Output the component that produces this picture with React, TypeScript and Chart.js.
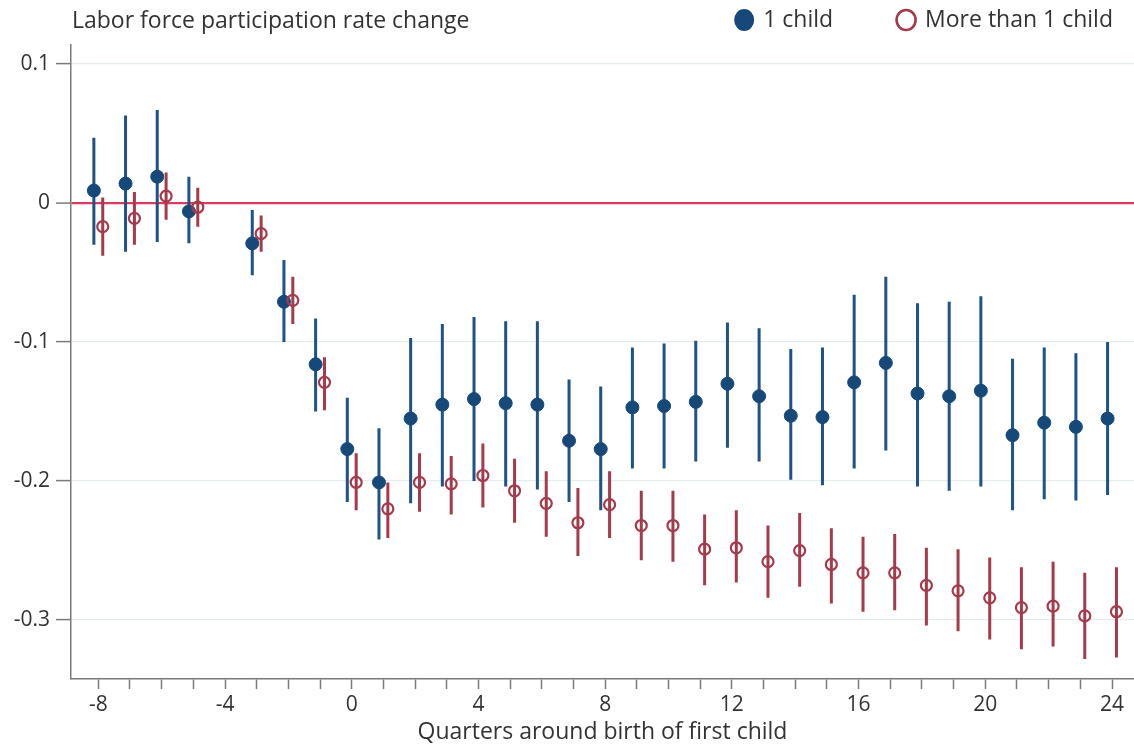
import React, { useEffect, useRef } from 'react';
import { Chart, registerables } from 'chart.js';

Chart.register(...registerables);

const FONT = '"Open Sans", sans-serif';

const yTitle = 'Labor force participation rate change';
const xTitle = 'Quarters around birth of first child';
const seriesNames = ['1 child', 'More than 1 child'];

const quarters = [-8, -7, -6, -5, -3, -2, -1, 0, 1, 2, 3, 4, 5, 6, 7, 8, 9, 10, 11, 12, 13, 14, 15, 16, 17, 18, 19, 20, 21, 22, 23, 24];

const oneEst = [0.009, 0.014, 0.019, -0.006, -0.029, -0.071, -0.116, -0.177, -0.201, -0.155, -0.145, -0.141, -0.144, -0.145, -0.171, -0.177, -0.147, -0.146, -0.143, -0.130, -0.139, -0.153, -0.154, -0.129, -0.115, -0.137, -0.139, -0.135, -0.167, -0.158, -0.161, -0.155];
const oneHi = [0.047, 0.063, 0.067, 0.019, -0.005, -0.041, -0.083, -0.140, -0.162, -0.097, -0.087, -0.082, -0.085, -0.085, -0.127, -0.132, -0.104, -0.101, -0.099, -0.086, -0.090, -0.105, -0.104, -0.066, -0.053, -0.072, -0.071, -0.067, -0.112, -0.104, -0.108, -0.100];
const oneLo = [-0.030, -0.035, -0.028, -0.029, -0.052, -0.100, -0.150, -0.215, -0.242, -0.216, -0.204, -0.200, -0.204, -0.206, -0.215, -0.221, -0.191, -0.191, -0.186, -0.176, -0.186, -0.199, -0.203, -0.191, -0.178, -0.204, -0.207, -0.204, -0.221, -0.213, -0.214, -0.210];

const moreEst = [-0.017, -0.011, 0.005, -0.003, -0.022, -0.070, -0.129, -0.201, -0.220, -0.201, -0.202, -0.196, -0.207, -0.216, -0.230, -0.217, -0.232, -0.232, -0.249, -0.248, -0.258, -0.250, -0.260, -0.266, -0.266, -0.275, -0.279, -0.284, -0.291, -0.290, -0.297, -0.294];
const moreHi = [0.004, 0.008, 0.022, 0.011, -0.009, -0.053, -0.111, -0.180, -0.201, -0.180, -0.182, -0.173, -0.184, -0.193, -0.205, -0.193, -0.207, -0.207, -0.224, -0.221, -0.232, -0.223, -0.234, -0.240, -0.238, -0.248, -0.249, -0.255, -0.262, -0.258, -0.266, -0.262];
const moreLo = [-0.038, -0.030, -0.012, -0.017, -0.035, -0.087, -0.149, -0.221, -0.241, -0.222, -0.224, -0.219, -0.230, -0.240, -0.254, -0.241, -0.257, -0.258, -0.275, -0.273, -0.284, -0.276, -0.288, -0.294, -0.293, -0.304, -0.308, -0.314, -0.321, -0.319, -0.328, -0.327];

const yTicks = [-0.3, -0.2, -0.1, 0, 0.1];
const xTicks = [-8, -7, -6, -5, -4, -3, -2, -1, 0, 1, 2, 3, 4, 5, 6, 7, 8, 9, 10, 11, 12, 13, 14, 15, 16, 17, 18, 19, 20, 21, 22, 23, 24];
const xLabelEvery = 4;

const BLUE = '#16497a';
const BLUE_BAR = '#1f5285';
const RED = '#a53a4b';
const ZERO = '#dc3a5e';
const AXIS = '#7a7a7a';
const GRID = '#e4eced';
const TEXT = '#333333';
const DODGE = 0.14;
const TITLE_SIZE = 23;
const TICK_SIZE = 21;

function points(est: number[], off: number) {
  return quarters.map((q, i) => ({ x: q + off, y: est[i] }));
}

function bars(lo: number[], hi: number[], off: number) {
  const out: { x: number; y: number | null }[] = [];
  quarters.forEach((q, i) => {
    out.push({ x: q + off, y: lo[i] });
    out.push({ x: q + off, y: hi[i] });
    out.push({ x: q + off, y: null });
  });
  return out;
}

const headerPlugin = {
  id: 'header',
  afterDraw(chart: any) {
    const ctx = chart.ctx as CanvasRenderingContext2D;
    ctx.save();
    ctx.font = `${TITLE_SIZE}px ${FONT}`;
    ctx.fillStyle = TEXT;
    ctx.textBaseline = 'middle';
    ctx.textAlign = 'left';
    ctx.fillText(yTitle, chart.chartArea.left + 1, 21);

    // legend, laid out from the right edge
    const y = 20;
    const w2 = ctx.measureText(seriesNames[1]).width;
    const w1 = ctx.measureText(seriesNames[0]).width;
    const end2 = chart.width - 21;
    const start2 = end2 - w2;
    const c2 = start2 - 19;
    const end1 = c2 - 73;
    const start1 = end1 - w1;
    const c1 = start1 - 19;

    ctx.fillText(seriesNames[0], start1, y);
    ctx.fillText(seriesNames[1], start2, y);

    ctx.beginPath();
    ctx.ellipse(c1, y, 10, 11, 0, 0, Math.PI * 2);
    ctx.fillStyle = BLUE;
    ctx.fill();

    ctx.beginPath();
    ctx.ellipse(c2, y, 9.5, 10, 0, 0, Math.PI * 2);
    ctx.lineWidth = 2.6;
    ctx.strokeStyle = RED;
    ctx.stroke();
    ctx.restore();
  },
};

export default function App() {
  const ref = useRef<HTMLCanvasElement | null>(null);

  useEffect(() => {
    document.body.style.margin = '0';
    const canvas = ref.current;
    if (!canvas) return;
    const chart = new Chart(canvas, {
      type: 'scatter',
      data: {
        datasets: [
          {
            label: seriesNames[0],
            data: points(oneEst, -DODGE),
            pointStyle: 'circle',
            pointRadius: 6.5,
            pointBackgroundColor: BLUE,
            pointBorderColor: BLUE,
            pointBorderWidth: 1,
            order: 3,
          } as any,
          {
            label: seriesNames[1],
            data: points(moreEst, DODGE),
            pointStyle: 'circle',
            pointRadius: 5.5,
            pointBackgroundColor: 'rgba(255,255,255,0)',
            pointBorderColor: RED,
            pointBorderWidth: 2.2,
            order: 1,
          } as any,
          {
            label: seriesNames[0] + ' CI',
            data: bars(oneLo, oneHi, -DODGE),
            showLine: true,
            spanGaps: false,
            pointRadius: 0,
            borderColor: BLUE_BAR,
            borderWidth: 3,
            order: 4,
          } as any,
          {
            label: seriesNames[1] + ' CI',
            data: bars(moreLo, moreHi, DODGE),
            showLine: true,
            spanGaps: false,
            pointRadius: 0,
            borderColor: RED,
            borderWidth: 3,
            order: 2,
          } as any,
        ],
      },
      options: {
        responsive: false,
        animation: false,
        devicePixelRatio: 1,
        layout: { autoPadding: false, padding: { top: 45, right: 0, left: 0, bottom: 0 } },
        plugins: {
          legend: { display: false },
          tooltip: { enabled: false },
        },
        scales: {
          x: {
            type: 'linear',
            min: -8.862,
            max: 24.694,
            afterBuildTicks: (s: any) => {
              s.ticks = xTicks.map((v) => ({ value: v }));
            },
            afterFit: (s: any) => {
              s.height = 68;
              s.paddingLeft = 0;
              s.paddingRight = 0;
            },
            ticks: {
              autoSkip: false,
              maxRotation: 0,
              padding: 3,
              color: TEXT,
              font: { family: FONT, size: TICK_SIZE },
              callback: (v: any) => (Number(v) % xLabelEvery === 0 ? String(v) : ''),
            },
            grid: {
              drawOnChartArea: false,
              drawTicks: true,
              tickLength: 10,
              tickColor: AXIS,
              tickWidth: 1.5,
            },
            border: { display: true, color: AXIS, width: 1.5 },
            title: {
              display: true,
              text: xTitle,
              color: TEXT,
              font: { family: FONT, size: TITLE_SIZE },
              padding: { top: 0, bottom: 1 },
            },
          },
          y: {
            type: 'linear',
            min: -0.3424,
            max: 0.1137,
            afterBuildTicks: (s: any) => {
              s.ticks = yTicks.map((v) => ({ value: v }));
            },
            afterFit: (s: any) => {
              s.width = 71;
              s.paddingTop = 0;
              s.paddingBottom = 0;
            },
            ticks: {
              padding: 6,
              color: TEXT,
              font: { family: FONT, size: TICK_SIZE },
              callback: (v: any) => String(Math.round(Number(v) * 10) / 10),
            },
            grid: {
              color: (c: any) => (c.tick && c.tick.value === 0 ? ZERO : GRID),
              lineWidth: (c: any) => (c.tick && c.tick.value === 0 ? 2.2 : 1.2),
              drawTicks: true,
              tickLength: 15,
              tickColor: AXIS,
              tickWidth: 1.5,
            },
            border: { display: true, color: AXIS, width: 1.5 },
          },
        },
      } as any,
      plugins: [headerPlugin],
    });
    return () => chart.destroy();
  }, []);

  return (
    <div style={{ position: 'absolute', left: 0, top: 0, width: 1134, height: 747, background: '#fff' }}>
      <canvas ref={ref} width={1134} height={747} style={{ width: 1134, height: 747, display: 'block' }} />
    </div>
  );
}
